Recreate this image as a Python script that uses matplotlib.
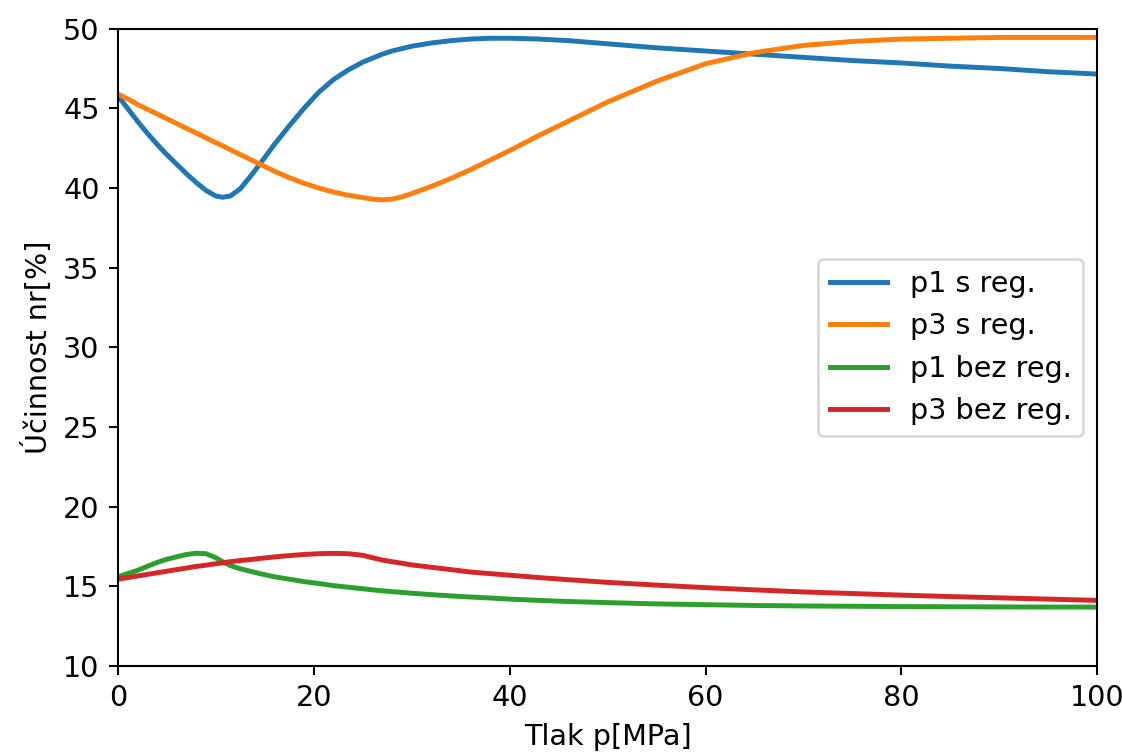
import matplotlib.pyplot as plt

# tlak [MPa]
p = [0, 1, 2, 3, 4, 5, 6, 7, 8, 9, 10, 10.7, 11.5, 12.5, 13.5, 14.5, 16, 17.5, 19,
     20.5, 22, 23.5, 25, 26, 27, 28, 29, 30, 32, 34, 36, 38, 40, 43, 46, 50,
     55, 60, 65, 70, 75, 80, 85, 90, 95, 100]

# ucinnost [%]
p1_s_reg = [45.8, 45.0, 44.2, 43.45, 42.75, 42.1, 41.5, 40.9, 40.35, 39.85, 39.5,
            39.42, 39.5, 39.95, 40.7, 41.5, 42.75, 43.9, 45.0, 46.0, 46.8, 47.4,
            47.9, 48.15, 48.4, 48.6, 48.75, 48.9, 49.1, 49.25, 49.35, 49.4, 49.4,
            49.35, 49.25, 49.05, 48.8, 48.6, 48.4, 48.2, 48.0, 47.85, 47.65, 47.5,
            47.3, 47.15]
p3_s_reg = [45.9, 45.6, 45.25, 44.95, 44.65, 44.35, 44.05, 43.75, 43.45, 43.15, 42.85,
            42.65, 42.4, 42.1, 41.8, 41.5, 41.05, 40.65, 40.3, 40.0, 39.75, 39.55,
            39.4, 39.3, 39.26, 39.3, 39.45, 39.65, 40.1, 40.6, 41.15, 41.75, 42.35,
            43.3, 44.2, 45.4, 46.7, 47.8, 48.5, 48.95, 49.2, 49.35, 49.4, 49.45,
            49.45, 49.45]
p1_bez_reg = [15.6, 15.8, 16.0, 16.25, 16.5, 16.7, 16.85, 17.0, 17.08, 17.05, 16.8,
              16.55, 16.3, 16.1, 15.95, 15.8, 15.6, 15.45, 15.3, 15.18, 15.05, 14.95,
              14.85, 14.78, 14.72, 14.67, 14.62, 14.57, 14.48, 14.4, 14.33, 14.27, 14.2,
              14.12, 14.05, 13.98, 13.9, 13.85, 13.8, 13.77, 13.75, 13.73, 13.72,
              13.71, 13.7, 13.7]
p3_bez_reg = [15.45, 15.55, 15.65, 15.75, 15.85, 15.95, 16.05, 16.15, 16.25, 16.33, 16.42,
              16.48, 16.55, 16.62, 16.68, 16.75, 16.85, 16.93, 17.0, 17.05, 17.07, 17.05,
              16.95, 16.8, 16.65, 16.55, 16.45, 16.35, 16.2, 16.05, 15.9, 15.8, 15.7,
              15.55, 15.42, 15.25, 15.08, 14.92, 14.78, 14.65, 14.55, 14.45, 14.36,
              14.28, 14.2, 14.12]

plt.rcParams['font.size'] = 11
plt.rcParams['lines.linewidth'] = 1.9

fig = plt.figure(figsize=(6.0, 4.043), dpi=187)
ax = fig.add_axes([0.105, 0.119, 0.873, 0.843])

ax.plot(p, p1_s_reg, label="p1 s reg.")
ax.plot(p, p3_s_reg, label="p3 s reg.")
ax.plot(p, p1_bez_reg, label="p1 bez reg.")
ax.plot(p, p3_bez_reg, label="p3 bez reg.")

ax.set_xlim(0, 100)
ax.set_ylim(10, 50)
ax.set_xlabel("Tlak p[MPa]")
ax.set_ylabel("Účinnost nr[%]")
ax.legend(loc="center right")

fig.savefig("out.png", dpi=187)
